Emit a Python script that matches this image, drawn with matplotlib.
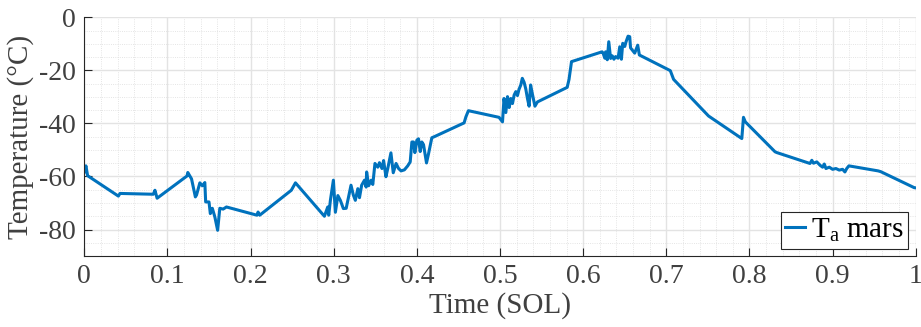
import numpy as np
import matplotlib
matplotlib.use('Agg')
import matplotlib.pyplot as plt
from matplotlib.ticker import MultipleLocator

# time in SOL, temperature in degC
sol = [0.000, 0.002, 0.004, 0.041, 0.043, 0.083, 0.085, 0.0876, 0.1236, 0.1245,
       0.129, 0.1336, 0.135, 0.139, 0.142, 0.145, 0.146, 0.150, 0.1516, 0.154,
       0.157, 0.1604, 0.163, 0.167, 0.171, 0.2077, 0.209, 0.211, 0.249, 0.254,
       0.2888, 0.2928, 0.294, 0.296, 0.2996, 0.302, 0.305, 0.308, 0.3116, 0.315,
       0.317, 0.3208, 0.3236, 0.326, 0.329, 0.331, 0.3336, 0.337, 0.339, 0.3396,
       0.342, 0.345, 0.347, 0.3496, 0.353, 0.355, 0.358, 0.360, 0.3628, 0.365,
       0.3688, 0.3716, 0.375, 0.378, 0.381, 0.385, 0.389, 0.392, 0.394, 0.396,
       0.3976, 0.400, 0.402, 0.404, 0.406, 0.408, 0.4116, 0.414, 0.418, 0.421,
       0.4568, 0.459, 0.462, 0.4988, 0.503, 0.5048, 0.507, 0.509, 0.511, 0.513,
       0.515, 0.517, 0.519, 0.521, 0.5228, 0.525, 0.5268, 0.529, 0.531, 0.533,
       0.535, 0.5368, 0.539, 0.542, 0.545, 0.5808, 0.583, 0.586, 0.6228, 0.624,
       0.626, 0.627, 0.629, 0.6308, 0.633, 0.635, 0.637, 0.639, 0.642, 0.644,
       0.646, 0.6476, 0.650, 0.6516, 0.654, 0.656, 0.657, 0.659, 0.662, 0.6656,
       0.6676, 0.7048, 0.7088, 0.7508, 0.7908, 0.7928, 0.795, 0.8308, 0.833,
       0.8728, 0.875, 0.877, 0.881, 0.885, 0.888, 0.890, 0.892, 0.896, 0.900,
       0.904, 0.908, 0.912, 0.9148, 0.917, 0.9196, 0.9548, 0.958, 0.998, 1.000]
temp = [-58.3, -56.0, -59.7, -67.4, -66.4, -66.7, -65.2, -68.2, -59.8, -58.5,
        -60.9, -67.7, -67.0, -62.4, -63.5, -62.3, -69.6, -69.6, -74.0, -72.0,
        -75.2, -80.3, -72.0, -72.3, -71.5, -74.6, -73.4, -74.6, -65.2, -62.4,
        -75.0, -71.5, -74.6, -69.0, -61.4, -73.5, -67.2, -69.0, -72.1, -72.0,
        -69.0, -63.3, -67.0, -69.0, -64.6, -68.0, -63.3, -61.4, -64.0, -58.3,
        -63.5, -61.4, -63.0, -55.1, -56.5, -54.8, -57.0, -54.0, -60.1, -57.0,
        -51.1, -58.6, -55.1, -57.0, -57.9, -57.5, -56.0, -54.5, -47.0, -47.0,
        -51.0, -46.3, -45.8, -50.6, -47.0, -48.0, -54.9, -51.5, -45.4, -45.0,
        -39.8, -37.5, -35.2, -37.7, -39.4, -30.6, -35.9, -29.9, -34.0, -30.6,
        -32.5, -29.3, -28.0, -29.5, -27.2, -25.5, -23.0, -24.5, -27.0, -30.6,
        -33.5, -25.5, -29.0, -33.5, -31.9, -26.4, -23.4, -16.7, -13.0, -13.5,
        -15.4, -13.0, -16.0, -9.2, -15.5, -14.5, -15.8, -14.8, -15.4, -11.1,
        -15.8, -9.8, -11.0, -9.2, -7.1, -7.3, -11.5, -12.3, -13.5, -10.5,
        -14.2, -20.1, -23.4, -37.2, -45.7, -37.7, -39.4, -50.7, -51.0,
        -55.1, -53.9, -55.0, -54.5, -55.8, -56.5, -55.3, -57.0, -56.5, -57.3,
        -57.0, -57.6, -57.3, -58.3, -57.0, -56.0, -57.9, -58.2, -64.2, -64.3]

x_ticks = np.arange(0, 1.01, 0.1)
x_labels = ['0', '0.1', '0.2', '0.3', '0.4', '0.5', '0.6', '0.7', '0.8', '0.9', '1']
y_ticks = [-80, -60, -40, -20, 0]

plt.rcParams['font.family'] = ['Liberation Serif', 'DejaVu Serif']
plt.rcParams['mathtext.fontset'] = 'custom'
plt.rcParams['mathtext.rm'] = 'Liberation Serif'
plt.rcParams['axes.unicode_minus'] = False
dark = '#262626'

fig = plt.figure(figsize=(9.21, 3.27), dpi=100)
ax = fig.add_axes([0.0915, 0.217, 0.9028, 0.730])

ax.plot(sol, temp, color='#0072BD', lw=2.2,
        label=r'T$_{\mathregular{a}}$ mars')

ax.set_xlim(0, 1)
ax.set_ylim(-90, 0)
ax.set_xticks(x_ticks)
ax.set_xticklabels(x_labels)
ax.set_yticks(y_ticks)
ax.xaxis.set_minor_locator(MultipleLocator(0.02))
ax.yaxis.set_minor_locator(MultipleLocator(5))

ax.grid(True, which='major', color='#e3e3e3', lw=1.0)
ax.grid(True, which='minor', color='#dcdcdc', lw=0.6, ls=':')
ax.set_axisbelow(True)

for s in ['top', 'right']:
    ax.spines[s].set_visible(False)
for s in ['left', 'bottom']:
    ax.spines[s].set_color(dark)
    ax.spines[s].set_linewidth(0.8)

ax.tick_params(which='major', direction='in', length=6, color=dark,
               labelcolor='#404040', labelsize=20, pad=6)
ax.tick_params(which='minor', length=0)

ax.set_xlabel('Time (SOL)', fontsize=21, color='#404040', labelpad=2)
ax.set_ylabel('Temperature (°C)', fontsize=21, color='#404040', labelpad=4)

leg = ax.legend(loc='lower right', fontsize=21, handlelength=0.7,
                handletextpad=0.2, borderpad=0.15, borderaxespad=0.25,
                fancybox=False, framealpha=1, edgecolor=dark)
leg.get_frame().set_linewidth(0.8)

fig.savefig('out.png', dpi=100)
